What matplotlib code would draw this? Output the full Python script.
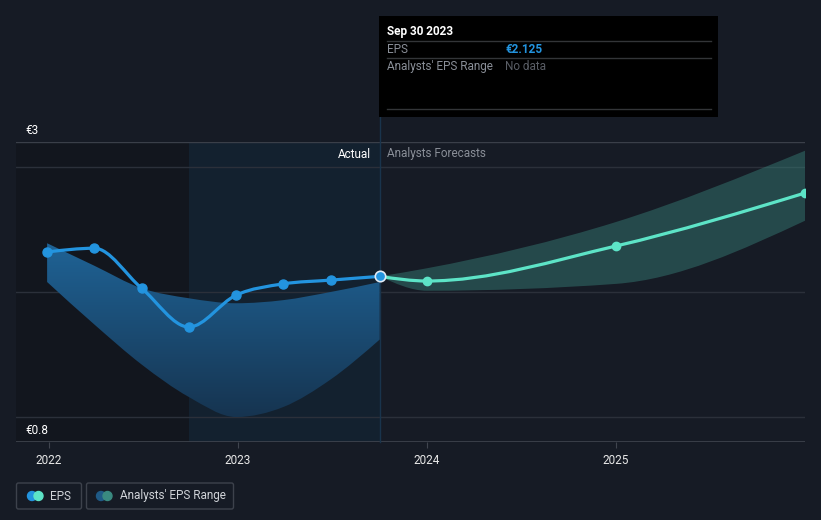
import numpy as np
import matplotlib
matplotlib.use("Agg")
import matplotlib.pyplot as plt
from matplotlib.path import Path
from matplotlib.patches import PathPatch, FancyBboxPatch, Rectangle, Circle
from matplotlib.colors import LinearSegmentedColormap

plt.rcParams['font.family'] = ['Roboto', 'DejaVu Sans']

# ---------------- data ----------------
actual_x = [2021.99, 2022.24, 2022.49, 2022.74, 2022.99, 2023.24, 2023.49, 2023.75]
actual_eps = [2.32, 2.35, 2.03, 1.72, 1.975, 2.065, 2.095, 2.125]
past_upper = [2.39, 2.21, 2.03, 1.95, 1.91, 1.935, 2.0, 2.08]
past_lower = [2.08, 1.74, 1.42, 1.16, 1.0, 1.08, 1.30, 1.62]

fc_x = [2023.75, 2024.0, 2025.0, 2026.0]
fc_eps = [2.125, 2.088, 2.368, 2.792]
fc_upper = [2.125, 2.19, 2.56, 3.13]
fc_lower = [2.125, 2.01, 2.065, 2.57]

year_ticks = [2022, 2023, 2024, 2025]
year_labels = ["2022", "2023", "2024", "2025"]
grid_vals = [1, 2, 3]

BG = '#161b25'
BLUE = '#2394df'
TEAL = '#5de4c7'


def monotone_tangents(x, y):
    x = np.asarray(x, float); y = np.asarray(y, float)
    n = len(x)
    h = np.diff(x); s = np.diff(y) / h
    t = np.zeros(n)
    for i in range(1, n - 1):
        s0, s1 = s[i - 1], s[i]
        p = (s0 * h[i] + s1 * h[i - 1]) / (h[i - 1] + h[i])
        t[i] = (np.sign(s0) + np.sign(s1)) * min(abs(s0), abs(s1), 0.5 * abs(p)) if s0 * s1 > 0 else 0.0
    t[0] = (3 * s[0] - t[1]) / 2 if n > 2 else s[0]
    t[-1] = (3 * s[-1] - t[-2]) / 2 if n > 2 else s[-1]
    return t


def bezier_segments(x, y):
    t = monotone_tangents(x, y)
    segs = []
    for i in range(len(x) - 1):
        dx = (x[i + 1] - x[i]) / 3
        segs.append(((x[i], y[i]), (x[i] + dx, y[i] + t[i] * dx),
                     (x[i + 1] - dx, y[i + 1] - t[i + 1] * dx), (x[i + 1], y[i + 1])))
    return segs


def line_path(x, y):
    segs = bezier_segments(x, y)
    verts = [segs[0][0]]; codes = [Path.MOVETO]
    for s in segs:
        verts += [s[1], s[2], s[3]]; codes += [Path.CURVE4] * 3
    return Path(verts, codes)


def band_path(x, yu, yl):
    su = bezier_segments(x, yu)
    sl = bezier_segments(x, yl)
    verts = [su[0][0]]; codes = [Path.MOVETO]
    for s in su:
        verts += [s[1], s[2], s[3]]; codes += [Path.CURVE4] * 3
    verts.append(sl[-1][3]); codes.append(Path.LINETO)
    for s in reversed(sl):
        verts += [s[2], s[1], s[0]]; codes += [Path.CURVE4] * 3
    verts.append(su[0][0]); codes.append(Path.CLOSEPOLY)
    return Path(verts, codes)


fig = plt.figure(figsize=(8.21, 5.2), dpi=100, facecolor=BG)
W, H = 821, 520
ax = fig.add_axes([16 / W, 1 - 442 / H, 789 / W, 300 / H])
ax.set_facecolor(BG)
x0 = 2022 + (16 - 49) / 189
for sp in ax.spines.values():
    sp.set_visible(False)

# background regions
ax.axvspan(x0, actual_x[3], color='#12161e', zorder=0, lw=0)
ax.axvspan(actual_x[3], actual_x[-1], color='#13212f', zorder=0, lw=0)

# grid
for g in grid_vals:
    ax.axhline(g, color='#2b303a', lw=1, zorder=1)
ax.axhline(3.2, color='#3a3f49', lw=1, zorder=1)
ax.axhline(0.8, color='#40454f', lw=1.2, zorder=1)

# ticks
ax.set_xticks(year_ticks)
ax.set_xticklabels(year_labels, color='#e8e8e8', fontsize=8.5)
ax.tick_params(axis='x', length=4, color='#40454f', pad=5)
ax.set_yticks([])

# past band with gradient
pp = PathPatch(band_path(actual_x, past_upper, past_lower), transform=ax.transData,
               facecolor='none', edgecolor='none')
ax.add_patch(pp)
cmap = LinearSegmentedColormap.from_list('b', ['#163450', '#1f6396'])
grad = np.linspace(0, 1, 256).reshape(-1, 1)
im = ax.imshow(grad, extent=[actual_x[0], actual_x[-1], 1.0, 2.4], origin='lower',
               aspect='auto', cmap=cmap, zorder=2, interpolation='bicubic')
im.set_clip_path(pp)
ax.set_xlim(x0, 2026.0)
ax.set_ylim(0.8, 3.2)

# forecast band
ax.add_patch(PathPatch(band_path(fc_x, fc_upper, fc_lower), transform=ax.transData,
                       facecolor='#3a8a80', alpha=0.42, edgecolor='none', zorder=2))

# vertical line
ax.plot([actual_x[-1]] * 2, [0.8, 3.4], color='#19344c', lw=1, clip_on=False, zorder=3)

# lines
ax.add_patch(PathPatch(line_path(fc_x, fc_eps), transform=ax.transData, fill=False,
                       edgecolor=TEAL, lw=2.3, zorder=4, capstyle='round'))
ax.plot(fc_x[1:], fc_eps[1:], 'o', color=TEAL, ms=6, zorder=5)
ax.add_patch(PathPatch(line_path(actual_x, actual_eps), transform=ax.transData, fill=False,
                       edgecolor=BLUE, lw=2.3, zorder=4, capstyle='round'))
ax.plot(actual_x[:-1], actual_eps[:-1], 'o', color=BLUE, ms=6.5, zorder=5)
ax.plot(actual_x[-1:], actual_eps[-1:], 'o', color=BLUE, ms=7.5, mec='#dfeaf5', mew=1.2, zorder=6)

# ---------------- overlay (pixel coords) ----------------
ov = fig.add_axes([0, 0, 1, 1], facecolor='none')
ov.set_xlim(0, W); ov.set_ylim(H, 0); ov.axis('off')

ov.text(25, 130, '€3', color='#ffffff', fontsize=8.5, va='center', ha='left')
ov.text(25, 430, '€0.8', color='#ffffff', fontsize=8.5, va='center', ha='left')
ov.text(371, 154, 'Actual', color='#ffffff', fontsize=8.5, va='center', ha='right')
ov.text(387, 154, 'Analysts Forecasts', color='#8a8f98', fontsize=8.5, va='center', ha='left')

# tooltip
ov.add_patch(Rectangle((379, 16), 339, 101, facecolor='#000000', edgecolor='none', zorder=10))
ov.text(387, 31, 'Sep 30 2023', color='#ffffff', fontsize=8.5, fontweight='bold', va='center', zorder=11)
for yy in (41, 58, 109):
    ov.plot([387, 711], [yy, yy], color='#333538', lw=1, zorder=11)
ov.text(387, 49.5, 'EPS', color='#8a8f98', fontsize=8.5, va='center', zorder=11)
ov.text(505, 49.5, '€2.125', color=BLUE, fontsize=8.5, fontweight='bold', va='center', zorder=11)
ov.text(387, 66.5, "Analysts' EPS Range", color='#8a8f98', fontsize=8.5, va='center', zorder=11)
ov.text(505, 66.5, 'No data', color='#5a5e66', fontsize=8.5, va='center', zorder=11)

# legend
ov.add_patch(FancyBboxPatch((16.5, 483), 65, 26, boxstyle='round,pad=0,rounding_size=2',
                            facecolor='none', edgecolor='#3d424c', lw=1))
ov.add_patch(FancyBboxPatch((86.5, 483), 147, 26, boxstyle='round,pad=0,rounding_size=2',
                            facecolor='none', edgecolor='#3d424c', lw=1))
ov.add_patch(Circle((32, 496), 4.5, color=BLUE, zorder=3))
ov.add_patch(Circle((38.5, 496), 4.5, color=TEAL, zorder=4))
ov.text(50, 496, 'EPS', color='#d0d3d8', fontsize=8.5, va='center')
ov.add_patch(Circle((101, 496), 4.5, color='#1f5a86', zorder=3))
ov.add_patch(Circle((107.5, 496), 4.5, color='#3a8a80', zorder=4))
ov.text(120, 496, "Analysts' EPS Range", color='#d0d3d8', fontsize=8.5, va='center')

fig.savefig('out.png', dpi=100, facecolor=BG)
